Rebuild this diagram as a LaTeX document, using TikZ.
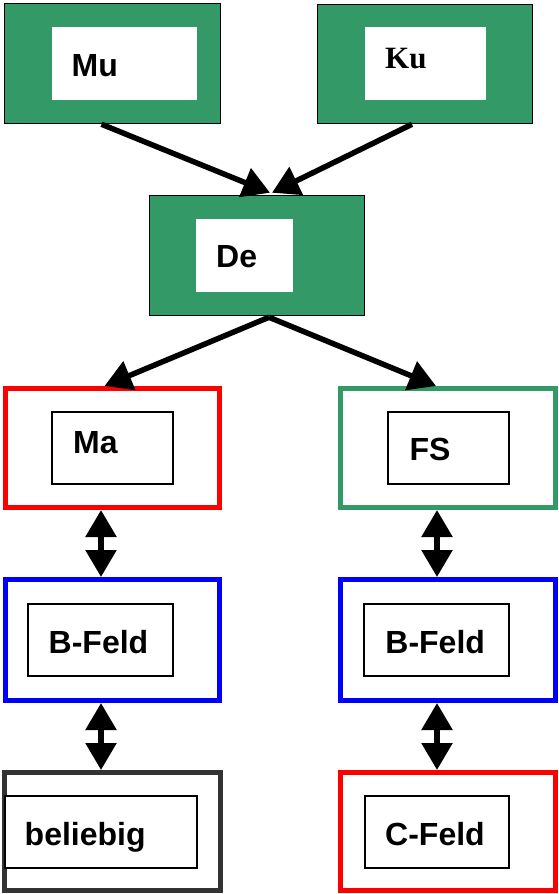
\documentclass[tikz,border=0pt]{standalone}
\usepackage{fontspec}
\setmainfont{Liberation Sans}
\newfontfamily\serifbold{Liberation Serif}
\usetikzlibrary{arrows.meta}
\definecolor{dgreen}{HTML}{339966}
\definecolor{dgray}{HTML}{333333}
\tikzset{
  greenbox/.style={draw=black, line width=1.5pt, fill=dgreen, rectangle, inner sep=0},
  whitebox/.style={fill=white, rectangle, inner sep=0},
  outerbox/.style={draw=#1, line width=5pt, fill=none, rectangle, inner sep=0},
  innerbox/.style={draw=black, line width=1.5pt, fill=white, rectangle, inner sep=0},
  lbl/.style={anchor=base west, inner sep=0, font=\fontsize{32}{36}\selectfont\bfseries},
  sarrow/.style={line width=5.5pt, -{Triangle[width=30pt,length=27pt]}},
  darrow/.style={line width=5.5pt, {Triangle[width=30pt,length=27pt]}-{Triangle[width=30pt,length=27pt]}}
}
\begin{document}
\begin{tikzpicture}[x=1pt,y=-1pt]
\useasboundingbox (0,0) rectangle (558,894);
% top green boxes
\node[greenbox, minimum width=216, minimum height=120] (mu) at (112.5,63.5) {};
\node[whitebox, minimum width=145, minimum height=73] (muin) at (124.5,63.5) {};
\node[lbl] (mut) at (71.5,76) {Mu};
\node[greenbox, minimum width=215, minimum height=119] (ku) at (425,64) {};
\node[whitebox, minimum width=121, minimum height=73] (kuin) at (425.5,63.5) {};
\node[lbl, font=\fontsize{31}{36}\serifbold\bfseries] (kut) at (385,68.3) {Ku};
\node[greenbox, minimum width=215, minimum height=120] (de) at (257,255.5) {};
\node[whitebox, minimum width=97, minimum height=73] (dein) at (244.5,255.5) {};
\node[lbl] (det) at (216,267.3) {De};
% lower boxes
\node[outerbox=red, minimum width=214, minimum height=119] (ma) at (112.5,448) {};
\node[innerbox, minimum width=121, minimum height=72] (main) at (112.5,448) {};
\node[lbl] (mat) at (73,453.3) {Ma};
\node[outerbox=dgreen, minimum width=215, minimum height=119] (fs) at (448,448) {};
\node[innerbox, minimum width=121, minimum height=72] (fsin) at (448.5,448) {};
\node[lbl] (fst) at (409.4,460.7) {FS};
\node[outerbox=blue, minimum width=214, minimum height=121] (bl) at (112.5,640) {};
\node[innerbox, minimum width=145, minimum height=72] (blin) at (100.5,640) {};
\node[lbl] (blt) at (48.5,653.3) {B-Feld};
\node[outerbox=blue, minimum width=215, minimum height=121] (br) at (448,640) {};
\node[innerbox, minimum width=145, minimum height=72] (brin) at (436.5,640) {};
\node[lbl] (brt) at (385.2,653.3) {B-Feld};
\node[outerbox=dgray, minimum width=216, minimum height=118] (bel) at (112.5,831.5) {};
\node[innerbox, minimum width=192, minimum height=72] (belin) at (101,832) {};
\node[lbl] (belt) at (24.5,845) {beliebig};
\node[outerbox=red, minimum width=215, minimum height=118] (cf) at (448,831.5) {};
\node[innerbox, minimum width=144, minimum height=72] (cfin) at (437,832) {};
\node[lbl] (cft) at (385,845) {C-Feld};
% arrows
\draw[sarrow] ([xshift=-11pt]mu.south) -- ([xshift=13pt,yshift=2pt]de.north);
\draw[sarrow] ([xshift=-13pt]ku.south) -- ([xshift=15pt,yshift=2pt]de.north);
\draw[sarrow] ([xshift=12pt,yshift=-1pt]de.south) -- ([xshift=-8pt]ma.north);
\draw[sarrow] ([xshift=12pt,yshift=-1pt]de.south) -- ([xshift=-12pt]fs.north);
\draw[darrow] ([xshift=-11.5pt]ma.south) -- ([xshift=-11.5pt]bl.north);
\draw[darrow] ([xshift=-11pt]fs.south) -- ([xshift=-11pt]br.north);
\draw[darrow] ([xshift=-11.5pt]bl.south) -- ([xshift=-11.5pt]bel.north);
\draw[darrow] ([xshift=-11pt]br.south) -- ([xshift=-11pt]cf.north);
\end{tikzpicture}
\end{document}
